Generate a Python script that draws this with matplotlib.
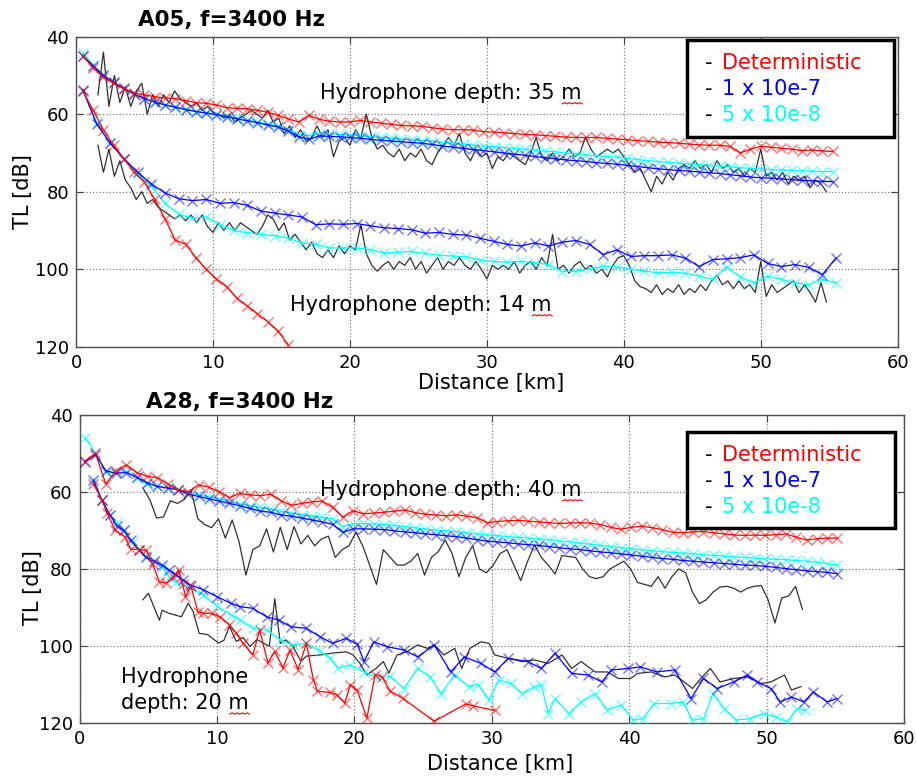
import numpy as np
import matplotlib
matplotlib.use("Agg")
import matplotlib.pyplot as plt
from matplotlib.patches import Rectangle

# ---------------- A05 ----------------
# upper curves (hydrophone 35 m), model grid 0.5 .. 55.25 km
a05_35_red = [45, 48, 50.5, 52, 53.5, 54.5, 55, 55.5, 55.8, 56, 56.5, 57, 57.2, 57.6, 58.3, 58.5,
              58.6, 59, 59.5, 60.3, 61.2, 62, 60.3, 61.3, 61.8, 62, 62, 61.6, 62, 62.3, 62.6, 62.9,
              63, 63.1, 63.5, 63.8, 64, 64, 64.1, 64.5, 64.6, 64.8, 65, 65.2, 65.3, 65.5, 65.7, 65.9,
              66, 66, 66, 66.2, 66.4, 66.6, 66.8, 67, 67.2, 67.3, 67.5, 67.7, 67.9, 68, 68, 68.3,
              70, 69, 68.3, 68.5, 68.8, 69, 69.4, 69.2, 69.5, 69.6]
a05_35_blue = [45, 47.5, 50, 51.8, 53.3, 54.8, 56, 56.9, 57.6, 58.2, 58.8, 59.3, 59.7, 60.1, 60.6,
               61.2, 61.7, 62.2, 62.8, 63.3, 64.3, 65.8, 66.5, 65.6, 65.7, 65.8, 66, 66.2, 66.5,
               66.7, 66.9, 67.1, 67.3, 67.5, 67.8, 68.2, 68.5, 68.8, 69.1, 69.4, 69.7, 70, 70.3,
               70.6, 70.9, 71.2, 71.5, 71.8, 72, 72.2, 72.5, 72.7, 72.9, 73.2, 73.5, 73.8, 74.1,
               74.3, 74.5, 74.7, 74.9, 75.1, 75.3, 75.6, 75.9, 76.2, 76.4, 76.5, 76.7, 76.9, 77.1,
               77.2, 77.3, 77.4]
a05_35_cyan = [44.3, 47.3, 50, 52, 53.5, 54.8, 56, 56.8, 57.5, 58.1, 58.7, 59.2, 59.6, 60, 60.5,
               61, 61.5, 62, 62.5, 63, 64, 65.3, 65.5, 65, 65, 65.2, 65.4, 65.6, 65.8, 66, 66.2,
               66.4, 66.6, 66.8, 67, 67.3, 67.5, 67.7, 68, 68.2, 68.4, 68.6, 68.8, 69, 69.3, 69.5,
               69.7, 70, 70.2, 70.5, 70.7, 70.9, 71.1, 71.4, 71.7, 72, 72.2, 72.4, 72.6, 72.8, 73,
               73.2, 73.4, 73.6, 73.8, 74, 74.2, 74.3, 74.4, 74.5, 74.6, 74.7, 74.8, 74.8]
# measured, 1.6 .. 54.8 km
a05_35_data = [55, 44, 58, 50, 57, 53, 58, 54, 52, 60, 55, 58, 55, 57, 54, 56, 57, 58, 57, 59,
               58, 59.5, 60, 61, 60, 62, 61, 60, 59, 60, 61, 59, 62, 61, 65, 63, 66, 64, 67, 66,
               63, 66, 64, 71, 67, 66, 68, 64, 66, 60, 66, 69, 68, 70, 71, 69, 72, 70, 71, 69,
               72, 73, 70, 68, 66, 68, 65, 70, 72, 69, 71, 70, 74, 71, 72, 70, 71, 72, 73, 70,
               66, 71, 72, 70, 72, 71, 69, 71, 70, 66, 69, 71, 70, 69, 70, 69, 71, 73, 75, 74,
               77, 80, 76, 78, 75, 77, 74, 73, 74, 72, 74, 73, 75, 72, 74, 73, 75, 74, 76, 74,
               75, 69, 76, 75, 77, 75, 78, 76, 77, 76, 79, 77, 78, 80]

# lower curves (hydrophone 14 m)
a05_14_red = [54, 59, 64, 68, 71.5, 75, 77.5, 82, 87, 92.5, 93.5, 97, 100, 102.5, 104.5, 107.5,
              109.5, 111.5, 113.5, 116, 119.5]
a05_14_blue = [53.7, 62.5, 67.5, 71.5, 75, 78, 80.3, 81.8, 82.3, 82, 83, 82.8, 83.5, 85, 85.5,
               86, 86.5, 88.5, 88.3, 88.4, 88.2, 88.8, 89.3, 89.5, 89.8, 90.7, 90.5, 91, 91.2,
               92, 92.8, 93.6, 94, 93.2, 94, 93, 92.6, 93.6, 96.2, 95, 96.7, 96.5, 96.5, 96.3,
               97.1, 99.3, 97.5, 97.3, 97, 96.3, 98.5, 99.3, 98.8, 99.5, 101.4, 97.1]
a05_14_cyan = [54, 62, 67.5, 71.5, 75.5, 78.6, 83, 85.8, 86.8, 86.5, 88.5, 90, 90.6, 91, 91.3,
               92, 93.2, 93.5, 94.5, 94.5, 94.5, 95, 95.8, 95.6, 95.4, 95.9, 96.4, 96.6, 96.8,
               97.6, 98, 98.2, 98, 98.3, 98.8, 100.6, 100.5, 100, 99.2, 99.4, 100, 100.5, 100.9,
               100.8, 101, 101.8, 102.6, 99.4, 102, 103.5, 101.8, 102.6, 103.5, 104, 102.6, 103.5]
a05_14_data = [68, 75, 69, 76, 72, 77, 79, 82, 80, 83, 82, 84, 85, 86, 87, 86, 87.5, 86, 88, 86,
               89, 90.5, 88, 90, 88, 90, 88, 89, 90, 91, 89, 86, 87, 90, 88, 92.5, 91, 93, 95, 93,
               96, 97, 95, 97, 94, 96, 94, 95, 88.5, 96, 99, 100.5, 99, 98, 100, 98, 99, 97, 100,
               98, 101, 99, 97, 100, 98, 99, 97, 99, 100, 98, 100, 102.5, 99, 100, 99, 100, 98,
               101, 99, 98, 100, 97, 99, 91, 100, 99, 101, 99, 98, 100, 99, 101, 100, 102, 99, 97,
               96.5, 99, 103, 104.5, 105, 106, 104, 106.5, 105, 106, 104, 106.5, 105, 106, 104,
               105.5, 103, 101.5, 104, 103, 105, 103, 105, 104, 106, 98, 107, 104, 106, 105, 104,
               103, 106, 104, 106, 108.5, 103.5, 108.5]

# ---------------- A28 ----------------
# upper curves (hydrophone 40 m), model grid 0.4 .. 55.15 km
a28_40_red = [52, 50, 58, 54.5, 53, 55, 56, 56.3, 58, 59.4, 60, 58.2, 58.8, 60, 61.5, 60.4, 60.8,
              61, 60.6, 62.3, 63.5, 63, 62.6, 62.4, 64, 66.6, 64.9, 65.7, 65.5, 65.3, 65, 64.7,
              65.4, 65.8, 66, 66.2, 66, 66.3, 66.7, 68, 67.7, 67.5, 67.4, 67.6, 67.8, 68, 68.2,
              68.1, 68, 68.1, 68.5, 69.2, 69.7, 69.2, 68.9, 69.3, 69.8, 70.5, 70.6, 70.4, 70.3,
              70.6, 70.9, 71.2, 71.3, 71.2, 71.3, 71.1, 70.9, 71.8, 72.5, 72.2, 72, 72]
a28_40_blue = [52.2, 50.4, 54.5, 55.2, 55, 56.2, 57.6, 58.6, 59, 59.5, 60.6, 61.2, 61.8, 62.4, 63,
               63.6, 64.3, 65, 65.3, 66, 66.3, 66.8, 67.3, 67.8, 68.4, 70.5, 69.6, 69.6, 69.7,
               69.8, 70.1, 70.4, 70.6, 70.9, 71.1, 71.4, 71.6, 72, 72.4, 72.8, 73, 73.2, 73.5,
               73.7, 73.9, 74.2, 74.5, 74.8, 75, 75.3, 75.6, 75.8, 76.1, 76.4, 76.7, 77, 77.3,
               77.5, 77.8, 78, 78.2, 78.4, 78.6, 78.8, 79, 79.1, 79.3, 79.6, 79.9, 80.2, 80.5,
               80.7, 80.9, 81.2]
a28_40_cyan = [46, 50, 54.8, 55.2, 54.6, 56.5, 58, 58.6, 59, 59.3, 60.3, 60.8, 61.3, 61.9, 62.5,
               63.2, 63.6, 64, 64.5, 65, 65.5, 65.9, 66.3, 66.6, 67, 69, 68.3, 68.2, 68.3, 68.5,
               68.7, 69, 69.3, 69.6, 69.9, 70.1, 70.3, 70.6, 70.9, 71.2, 71.4, 71.6, 71.8, 72,
               72.2, 72.4, 72.7, 73, 73.3, 73.6, 73.9, 74.2, 74.5, 74.8, 75, 75.3, 75.5, 75.7,
               75.9, 76.1, 76.3, 76.5, 76.7, 76.9, 77, 77.2, 77.4, 77.5, 77.6, 77.8, 78, 78.3,
               78.6, 79]
# measured, 4.6 .. 52.6 km
a28_40_data = [59, 62, 66.8, 66.5, 62.3, 63, 62, 59.5, 67, 68.5, 69.3, 67, 72, 67.3, 73, 81.6,
               75, 74, 69.6, 75.6, 69.2, 75, 69, 73.5, 71.3, 74, 72.2, 71.5, 77, 75, 74, 70.5,
               74, 79, 84, 75, 77, 79, 79, 78, 76, 81.6, 77, 75.5, 72.5, 76, 82, 77, 74, 80, 81,
               79, 76, 75, 79, 83, 78, 73.8, 77, 79, 81.3, 76.5, 76.8, 77, 80, 82, 82.5, 82, 80,
               79, 78, 80, 83.5, 84, 84.5, 82, 85, 82, 80, 81, 86, 89, 88, 86, 84.7, 84.5, 85,
               86, 85, 84.5, 84.3, 88, 94, 87.5, 87, 84.5, 90.5]

# lower curves (hydrophone 20 m)
a28_20_red_km = [1.0, 1.6, 2.0, 2.6, 3.3, 3.7, 4.3, 4.85, 5.3, 5.8, 6.3, 6.8, 7.2, 7.5, 7.7, 8.1,
                 8.6, 9.0, 9.6, 10.2, 10.9, 11.4, 11.9, 12.6, 13.1, 13.7, 14.2, 14.8, 15.3, 15.9,
                 16.5, 17.0, 17.3, 18.2, 18.7, 19.3, 19.7, 20.2, 20.9, 21.5, 22.0, 22.6, 23.5,
                 25.8, 28.1, 28.6, 30.2]
a28_20_red = [58, 62, 65.6, 70, 71.7, 74.8, 75, 75.2, 78.7, 83.3, 83.7, 82, 80.3, 84, 87.2, 84.5,
              91.1, 91.5, 91.5, 92.4, 94.5, 96.7, 99.3, 102.3, 95.8, 104.4, 101.4, 105.7, 101,
              106.1, 99.2, 108.7, 111.7, 112, 112.6, 114.8, 110, 111.5, 118.7, 107.4, 108, 111.7,
              113.5, 119.5, 115, 115.5, 116.7]
a28_20_blue_km = [1.0, 1.6, 2.2, 2.7, 3.2, 3.7, 4.3, 4.8, 5.4, 6.0, 6.5, 7.0, 7.5, 8.0, 9.0, 10.0,
                  11.0, 11.7, 12.6, 13.6, 14.5, 15.4, 16.5, 17.5, 18.4, 19.4, 20.2, 20.7, 21.4,
                  22.4, 23.6, 24.6, 25.8, 27.0, 28.0, 29.2, 30.2, 31.2, 32.6, 33.6, 34.6, 35.8,
                  37.0, 38.0, 38.7, 39.9, 40.8, 42.0, 43.3, 44.5, 45.4, 46.4, 47.6, 48.6, 49.3,
                  50.3, 51.0, 51.8, 52.7, 53.4, 54.4, 55.1]
a28_20_blue = [57, 62, 66, 68.8, 70, 72.6, 75, 77, 78, 79, 80.3, 81.5, 82.8, 84.1, 85.4, 87.2,
               88.9, 89.8, 90.2, 92.4, 93.3, 95, 95.4, 97.6, 99.3, 98, 99.5, 104, 98.9, 100.2,
               101, 102.8, 99.7, 106.7, 102.8, 104.5, 106.7, 103.2, 104, 105.8, 101.9, 107.1,
               107.5, 109.3, 106.2, 105.8, 105.4, 106.7, 106.2, 113.6, 108.4, 111, 109.3, 107.5,
               109.3, 111, 114.5, 113.2, 114.5, 111.9, 114.5, 113.6]
a28_20_cyan_km = [1.0, 1.6, 2.2, 2.7, 3.2, 3.9, 4.8, 5.5, 6.0, 6.5, 7.0, 8.0, 9.0, 10.0, 11.0,
                  11.7, 12.6, 13.6, 14.6, 15.5, 16.5, 17.5, 18.2, 18.8, 19.7, 20.7, 21.7, 22.6,
                  23.6, 24.6, 25.5, 26.3, 27.3, 28.3, 29.0, 29.8, 30.5, 31.4, 32.2, 33.1, 33.6,
                  34.1, 34.6, 35.6, 36.5, 37.5, 38.4, 39.4, 40.3, 41.0, 41.8, 43.0, 43.9, 44.6,
                  45.4, 46.1, 46.9, 47.8, 48.8, 49.8, 50.7, 51.5, 52.2, 52.8]
a28_20_cyan = [57.5, 62, 66, 68, 70, 73, 76.6, 78, 79.5, 82, 83.3, 85, 86.7, 89.7, 91.9, 93.2,
               95.4, 95.8, 98.4, 99.7, 99.3, 101.4, 103.1, 105.7, 104.9, 106.7, 108.4, 107.8,
               111, 105.8, 108, 112.3, 107.5, 110.5, 110, 114, 108.8, 109.7, 112.3, 110.5,
               110.1, 117.5, 113.6, 117.5, 114.5, 112.3, 116.6, 115.3, 119.2, 118.8, 114.9,
               114.9, 114.5, 119.2, 118.8, 112.3, 116.2, 119.2, 118.8, 117.5, 118.4, 119.7,
               116.2, 116.6]
a28_20_data_km = [4.6, 5.0, 5.8, 6.0, 6.5, 7.4, 7.9, 8.25, 8.7, 9.3, 10.1, 10.5, 10.9, 11.4, 11.9,
                  12.4, 12.9, 13.4, 13.8, 14.2, 14.6, 15.0, 15.5, 16.1, 16.5, 17.5, 18.45, 19.4,
                  19.9, 20.4, 20.9, 21.6, 22.1, 22.5, 23.1, 23.8, 24.6, 25.3, 25.8, 26.5, 27.3,
                  27.8, 28.4, 29.2, 29.8, 30.2, 31.2, 32.2, 33.1, 34.1, 35.1, 35.8, 36.5, 37.5,
                  38.4, 39.2, 40.1, 40.6, 41.6, 42.6, 43.3, 44.0, 44.6, 45.2, 45.9, 46.6, 47.6,
                  48.6, 49.6, 50.3, 50.8, 51.3, 51.8, 52.5]
a28_20_data = [88, 86.3, 93.3, 90.7, 91.5, 92.4, 88.9, 91, 96.7, 97, 99.2, 98.5, 94.9, 98.8, 97.8,
               100.1, 98.3, 99.3, 100, 87.7, 99.3, 98.4, 100, 103.9, 102.6, 102.3, 101.8, 101.5,
               102.3, 104.5, 107.5, 105.7, 104, 107, 102.3, 101.5, 99.7, 100.6, 99.7, 102.3,
               100.6, 105.8, 100.6, 98.9, 99.3, 102.3, 103.2, 104, 103.6, 104.5, 102.3, 105.8,
               104, 106.7, 106.7, 108.4, 108.4, 107.1, 106.7, 108, 107.5, 109.3, 111, 108.4,
               105.8, 109.3, 108.4, 108, 109.7, 109.3, 108.4, 107.5, 111.4, 110.5]

legend_labels = ["Deterministic", "1 x 10e-7", "5 x 10e-8"]
RED, BLUE, CYAN, GREY = "#ff0000", "#0000ff", "#00ffff", "#303030"


def model(ax, x, y, c):
    ax.plot(x, y, "-", color=c, lw=0.9, zorder=3)
    ax.plot(x, y, "x", color=c, ms=7.5, mew=1.0, alpha=0.55, zorder=3)


def setup(ax):
    ax.set_xlim(0, 60)
    ax.set_ylim(120, 40)
    ax.set_xticks(range(0, 61, 10))
    ax.set_yticks(range(40, 121, 20))
    ax.grid(True, ls=":", color="#808080", lw=0.9)
    ax.tick_params(direction="in", top=True, right=True, labelsize=13, length=5,
                   color="#404040", pad=5)
    for s in ax.spines.values():
        s.set_color("#505050")
        s.set_linewidth(1.0)


def legend_box(ax, x0, x1, y0, y1, dx, wx, ys):
    ax.add_patch(Rectangle((x0, y0), x1 - x0, y1 - y0, transform=ax.transAxes,
                           facecolor="white", edgecolor="black", lw=2.5, zorder=6))
    for lab, c, yy in zip(legend_labels, [RED, BLUE, CYAN], ys):
        ax.text(dx, yy, "-", transform=ax.transAxes, fontsize=15, va="center", zorder=7)
        ax.text(wx, yy, lab, transform=ax.transAxes, fontsize=15, va="center",
                color=c, zorder=7)


def squiggle(fig, txt):
    # red spell-check wave under the trailing "m" of a label
    fig.canvas.draw()
    bb = txt.get_window_extent()
    xs = np.arange(bb.x1 - 19, bb.x1 + 1.5, 2.5)
    ys = bb.y0 - 1 + 1.3 * (np.arange(len(xs)) % 2)
    fig.add_artist(plt.Line2D(xs / fig.bbox.width, ys / fig.bbox.height, color="red", lw=0.8))


fig = plt.figure(figsize=(9.16, 7.81), dpi=100)
ax1 = fig.add_axes([0.083, 0.556, 0.897, 0.397])
ax2 = fig.add_axes([0.087, 0.074, 0.900, 0.395])

# A05
setup(ax1)
ax1.plot(np.linspace(1.6, 54.8, len(a05_35_data)), a05_35_data, color=GREY, lw=0.9, zorder=2)
ax1.plot(np.linspace(1.6, 54.8, len(a05_14_data)), a05_14_data, color=GREY, lw=0.9, zorder=2)
model(ax1, np.linspace(0.5, 55.25, len(a05_35_cyan)), a05_35_cyan, CYAN)
model(ax1, np.linspace(0.5, 55.25, len(a05_35_blue)), a05_35_blue, BLUE)
model(ax1, np.linspace(0.5, 55.25, len(a05_35_red)), a05_35_red, RED)
model(ax1, np.linspace(0.5, 55.5, len(a05_14_cyan)), a05_14_cyan, CYAN)
model(ax1, np.linspace(0.5, 55.5, len(a05_14_blue)), a05_14_blue, BLUE)
model(ax1, np.linspace(0.5, 15.5, len(a05_14_red)), a05_14_red, RED)
t1 = ax1.text(17.8, 54.5, "Hydrophone depth: 35 m", fontsize=15, va="center", zorder=5)
t2 = ax1.text(15.6, 109.2, "Hydrophone depth: 14 m", fontsize=15, va="center", zorder=5)
ax1.set_xlabel("Distance [km]", fontsize=15)
ax1.xaxis.set_label_coords(0.505, -0.085)
ax1.set_ylabel("TL [dB]", fontsize=15)
ax1.yaxis.set_label_coords(-0.052, 0.5)
legend_box(ax1, 0.743, 0.996, 0.677, 0.990, 0.765, 0.786, [0.916, 0.832, 0.748])
fig.text(232 / 916, 1 - 20 / 781, "A05, f=3400 Hz", fontsize=15.5, fontweight="bold",
         ha="center", va="center")

# A28
setup(ax2)
ax2.plot(np.linspace(4.6, 52.6, len(a28_40_data)), a28_40_data, color=GREY, lw=0.9, zorder=2)
ax2.plot(a28_20_data_km, a28_20_data, color=GREY, lw=0.9, zorder=2)
model(ax2, np.linspace(0.4, 55.15, len(a28_40_cyan)), a28_40_cyan, CYAN)
model(ax2, np.linspace(0.4, 55.15, len(a28_40_blue)), a28_40_blue, BLUE)
model(ax2, np.linspace(0.4, 55.15, len(a28_40_red)), a28_40_red, RED)
model(ax2, a28_20_cyan_km, a28_20_cyan, CYAN)
model(ax2, a28_20_blue_km, a28_20_blue, BLUE)
model(ax2, a28_20_red_km, a28_20_red, RED)
t3 = ax2.text(17.5, 59.5, "Hydrophone depth: 40 m", fontsize=15, va="center", zorder=5)
ax2.text(3.0, 108.0, "Hydrophone", fontsize=15, va="center", zorder=5)
t4 = ax2.text(3.0, 114.8, "depth: 20 m", fontsize=15, va="center", zorder=5)
ax2.set_xlabel("Distance [km]", fontsize=15)
ax2.xaxis.set_label_coords(0.51, -0.1)
ax2.set_ylabel("TL [dB]", fontsize=15)
ax2.yaxis.set_label_coords(-0.045, 0.44)
legend_box(ax2, 0.737, 0.989, 0.633, 0.945, 0.758, 0.779, [0.870, 0.786, 0.701])
fig.text(240 / 916, 1 - 402 / 781, "A28, f=3400 Hz", fontsize=15.5, fontweight="bold",
         ha="center", va="center")

for t in (t1, t2, t3, t4):
    squiggle(fig, t)

fig.savefig("out.png", dpi=100)
